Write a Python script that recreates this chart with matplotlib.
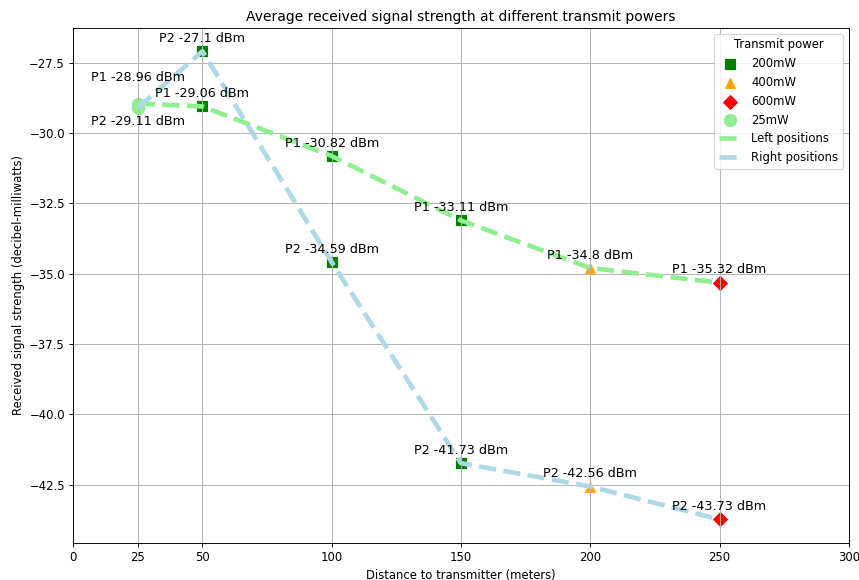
import matplotlib
matplotlib.use("Agg")
import matplotlib.pyplot as plt

distances = [25, 50, 100, 150, 200, 250]
left_vals = [-28.96, -29.06, -30.82, -33.11, -34.80, -35.32]
right_vals = [-29.11, -27.10, -34.59, -41.73, -42.56, -43.73]
powers = ["25mW", "200mW", "200mW", "200mW", "400mW", "600mW"]

power_order = ["200mW", "400mW", "600mW", "25mW"]
power_colors = {"200mW": "green", "400mW": "orange", "600mW": "red", "25mW": "lightgreen"}
power_markers = {"200mW": "s", "400mW": "^", "600mW": "D", "25mW": "o"}
xticks = [0, 25, 50, 100, 150, 200, 250, 300]

SCALE = 0.836
DPI = 100 * SCALE
fig, ax = plt.subplots(figsize=(8.6 / SCALE, 5.8 / SCALE), dpi=DPI)
fig.subplots_adjust(left=0.085, right=0.987, top=0.952, bottom=0.064)

for p in power_order:
    xs = [d for d, pw in zip(distances, powers) if pw == p]
    ys = [v for v, pw in zip(left_vals, powers) if pw == p] + \
         [v for v, pw in zip(right_vals, powers) if pw == p]
    ax.scatter(xs + xs, ys, color=power_colors[p], marker=power_markers[p],
               s=70 if p != "25mW" else 110, label=p, zorder=1)

ax.plot(distances, left_vals, linestyle="--", color="lightgreen", linewidth=4,
        label="Left positions", zorder=2)
ax.plot(distances, right_vals, linestyle="--", color="lightblue", linewidth=4,
        label="Right positions", zorder=2)

for i, (d, v) in enumerate(zip(distances, left_vals)):
    off = (0, 22.5) if i == 0 else (0, 11)
    ax.annotate(f"P1 {v:g} dBm", (d, v), xytext=off, textcoords="offset points",
                ha="center", va="center", fontsize=11)
for i, (d, v) in enumerate(zip(distances, right_vals)):
    off = (0, -12) if i == 0 else (0, 11)
    ax.annotate(f"P2 {v:g} dBm", (d, v), xytext=off, textcoords="offset points",
                ha="center", va="center", fontsize=11)

ax.set_xlim(0, 300)
ax.set_xticks(xticks)
ax.grid(True)
ax.set_title("Average received signal strength at different transmit powers")
ax.set_xlabel("Distance to transmitter (meters)")
ax.set_ylabel("Received signal strength (decibel-milliwatts)")
ax.legend(title="Transmit power", loc="upper right")

fig.savefig("out.png", dpi=DPI)
